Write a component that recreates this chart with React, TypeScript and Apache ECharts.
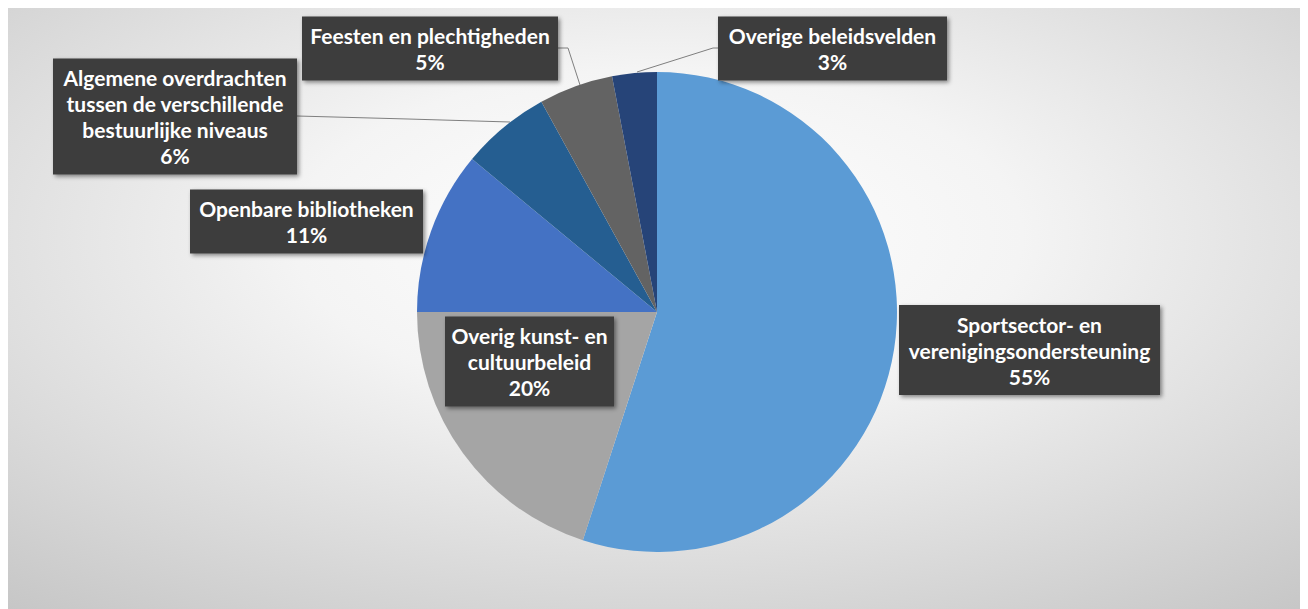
import React, { useEffect, useRef } from "react";
import * as echarts from "echarts";

const categories = [
  "Sportsector- en\nverenigingsondersteuning",
  "Overig kunst- en\ncultuurbeleid",
  "Openbare bibliotheken",
  "Algemene overdrachten\ntussen de verschillende\nbestuurlijke niveaus",
  "Feesten en plechtigheden",
  "Overige beleidsvelden",
];
const values = [55, 20, 11, 6, 5, 3];
const colors = ["#5B9BD5", "#A5A5A5", "#4472C4", "#255E91", "#636363", "#264478"];

// label box centres (chart pixel coords), box content widths and leader lines
const labelCenters: [number, number][] = [
  [1021.5, 342],
  [521.5, 353.5],
  [298.5, 213.5],
  [167, 108.5],
  [422, 40.5],
  [824.5, 40.5],
];
const labelWidths = [243, 151, 215, 226, 238, 211];
const leaderLines: ([number, number][] | null)[] = [
  null,
  null,
  null,
  [[502, 114], [400, 111], [289, 108]],
  [[572, 77], [560, 40], [550, 40]],
  [[629, 64], [705, 40], [710, 40]],
];

export default function App() {
  const ref = useRef<HTMLDivElement>(null);
  useEffect(() => {
    if (!ref.current) return;
    const chart = echarts.init(ref.current, null, { renderer: "svg" });
    chart.setOption({
      animation: false,
      backgroundColor: {
        type: "radial",
        x: 0.5,
        y: 0.38,
        r: 0.8,
        colorStops: [
          { offset: 0, color: "#ffffff" },
          { offset: 0.35, color: "#f4f4f4" },
          { offset: 1, color: "#c6c6c6" },
        ],
      },
      series: [
        {
          type: "pie",
          center: [649, 304],
          radius: 240,
          startAngle: 90,
          clockwise: true,
          avoidLabelOverlap: false,
          data: categories.map((c, i) => ({
            name: c,
            value: values[i],
            itemStyle: { color: colors[i] },
            labelLine: { show: !!leaderLines[i] },
            label: { width: labelWidths[i] },
          })),
          label: {
            show: true,
            position: "outside",
            formatter: (p: any) => `${p.name}\n${Math.round(p.percent)}%`,
            color: "#ffffff",
            fontFamily: "Lato, 'Open Sans', sans-serif",
            fontWeight: "bold",
            fontSize: 21,
            lineHeight: 26,
            align: "center",
            overflow: "none",
            backgroundColor: "#3d3d3d",
            padding: [6, 9, 6, 9],
            shadowColor: "rgba(0,0,0,0.45)",
            shadowBlur: 4,
            shadowOffsetX: 2,
            shadowOffsetY: 2,
          },
          labelLine: {
            show: true,
            lineStyle: { color: "#7f7f7f", width: 1 },
          },
          labelLayout: (params: any) => {
            const i = params.dataIndex;
            const c = labelCenters[i];
            const out: any = {
              x: c[0],
              y: c[1],
              align: "center",
              verticalAlign: "middle",
            };
            if (leaderLines[i]) out.labelLinePoints = leaderLines[i];
            return out;
          },
        },
      ],
    });
    return () => chart.dispose();
  }, []);
  return <div ref={ref} style={{ width: 1300, height: 601 }} />;
}
